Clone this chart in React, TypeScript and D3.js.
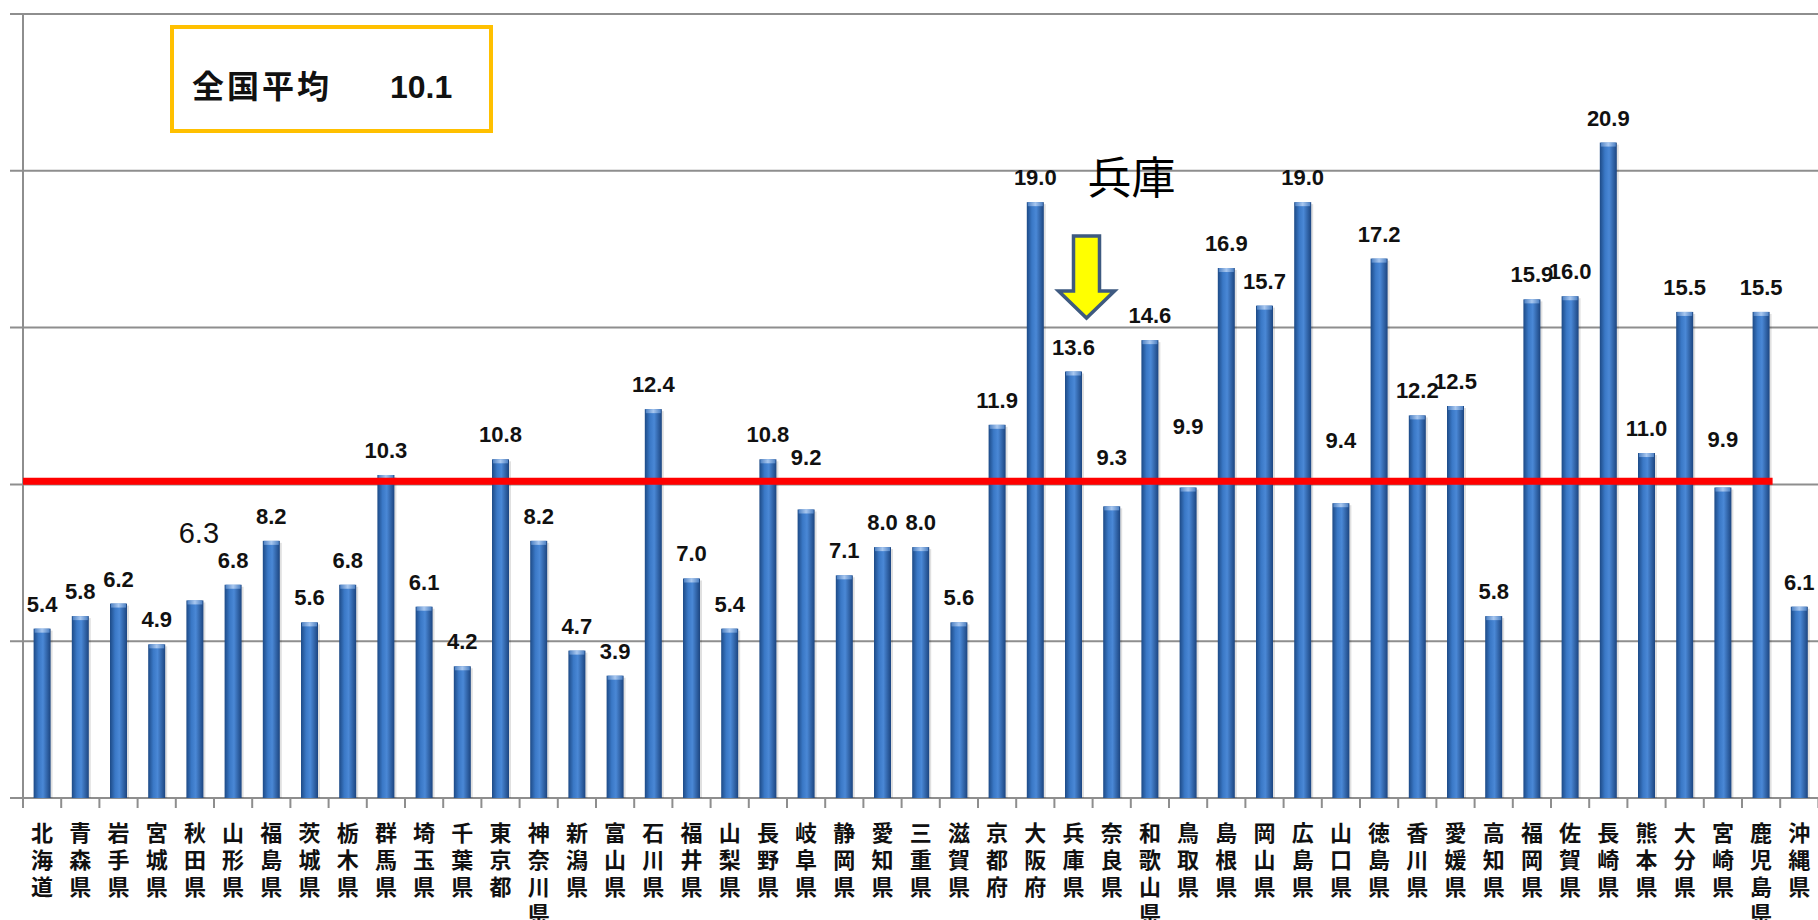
import React from 'react';
import * as d3 from 'd3';

const prefectures = [
  '北海道', '青森県', '岩手県', '宮城県', '秋田県', '山形県', '福島県', '茨城県', '栃木県', '群馬県',
  '埼玉県', '千葉県', '東京都', '神奈川県', '新潟県', '富山県', '石川県', '福井県', '山梨県', '長野県',
  '岐阜県', '静岡県', '愛知県', '三重県', '滋賀県', '京都府', '大阪府', '兵庫県', '奈良県', '和歌山県',
  '鳥取県', '島根県', '岡山県', '広島県', '山口県', '徳島県', '香川県', '愛媛県', '高知県', '福岡県',
  '佐賀県', '長崎県', '熊本県', '大分県', '宮崎県', '鹿児島県', '沖縄県',
];

const values = [
  5.4, 5.8, 6.2, 4.9, 6.3, 6.8, 8.2, 5.6, 6.8, 10.3,
  6.1, 4.2, 10.8, 8.2, 4.7, 3.9, 12.4, 7.0, 5.4, 10.8,
  9.2, 7.1, 8.0, 8.0, 5.6, 11.9, 19.0, 13.6, 9.3, 14.6,
  9.9, 16.9, 15.7, 19.0, 9.4, 17.2, 12.2, 12.5, 5.8, 15.9,
  16.0, 20.9, 11.0, 15.5, 9.9, 15.5, 6.1,
];

const nationalAverage = 10.1;
const averageLabel = '全国平均';
const highlightName = '兵庫県';
const highlightText = '兵庫';
const yTicks = [0, 5, 10, 15, 20, 25];

// label placement tweaks (px lift above default position)
const labelLift: Record<string, number> = {
  '岐阜県': 27,
  '奈良県': 24,
  '鳥取県': 37,
  '山口県': 38,
  '宮崎県': 24,
};
const bigLabel = '秋田県';

const W = 1818;
const H = 920;
const axisX = 23;
const step = 38.2;
const baseY = 798;
const topY = 14;

export default function App() {
  const x = d3.scaleBand<string>().domain(prefectures).range([axisX, axisX + step * prefectures.length]).padding(0);
  const y = d3.scaleLinear().domain([0, 25]).range([baseY, topY]);
  const bw = x.bandwidth();
  const barW = 17;
  const avgY = y(nationalAverage);
  const lastBarIdx = prefectures.indexOf('鹿児島県');
  const avgEnd = (x(prefectures[lastBarIdx]) as number) + bw / 2 + barW / 2 + 3;
  const hx = (x(highlightName) as number) + bw / 2;

  const labelFont = '"Liberation Sans", Arial, sans-serif';
  const cjkFont = '"Noto Sans CJK JP", "Noto Sans CJK SC", sans-serif';

  return (
    <svg width={W} height={H} style={{ position: 'absolute', left: 0, top: 0, background: '#fff' }}>
      <defs>
        <linearGradient id="barGrad" x1="0" x2="1" y1="0" y2="0">
          <stop offset="0%" stopColor="#1d4a86" />
          <stop offset="30%" stopColor="#3a78c6" />
          <stop offset="55%" stopColor="#4a88d6" />
          <stop offset="100%" stopColor="#1c4580" />
        </linearGradient>
        <linearGradient id="capGrad" x1="0" x2="1" y1="0" y2="0">
          <stop offset="0%" stopColor="#4f82c4" />
          <stop offset="50%" stopColor="#a9c8f0" />
          <stop offset="100%" stopColor="#4f82c4" />
        </linearGradient>
      </defs>

      {/* gridlines */}
      {yTicks.map((t) => (
        <line key={t} x1={10} x2={W} y1={y(t)} y2={y(t)} stroke="#8e8e8e" strokeWidth={2} />
      ))}
      {/* y axis */}
      <line x1={axisX} x2={axisX} y1={topY} y2={baseY + 10} stroke="#8e8e8e" strokeWidth={2} />
      {/* x ticks */}
      {prefectures.map((p) => (
        <line key={'t' + p} x1={(x(p) as number) + bw} x2={(x(p) as number) + bw} y1={baseY} y2={baseY + 10} stroke="#8e8e8e" strokeWidth={2} />
      ))}

      {/* bars */}
      {prefectures.map((p, i) => {
        const cx = (x(p) as number) + bw / 2;
        const top = y(values[i]);
        return (
          <g key={'b' + p}>
            <rect x={cx - barW / 2 + 2} y={top + 2} width={barW} height={baseY - top - 2} fill="#000" opacity={0.12} />
            <rect x={cx - barW / 2} y={top} width={barW} height={baseY - top} fill="url(#barGrad)" />
            <rect x={cx - barW / 2 + 1} y={top} width={barW - 2} height={4} fill="url(#capGrad)" />
          </g>
        );
      })}

      {/* average line */}
      <line x1={axisX} x2={avgEnd} y1={avgY} y2={avgY} stroke="#ff0000" strokeWidth={7} />

      {/* value labels */}
      {prefectures.map((p, i) => {
        const cx = (x(p) as number) + bw / 2;
        const top = y(values[i]);
        if (p === bigLabel) {
          return (
            <text key={'l' + p} x={cx + 4} y={top - 57} textAnchor="middle" fontFamily={labelFont} fontSize={29} fill="#111">
              {values[i].toFixed(1)}
            </text>
          );
        }
        const lift = labelLift[p] || 0;
        return (
          <text key={'l' + p} x={cx} y={top - 17 - lift} textAnchor="middle" fontFamily={labelFont} fontWeight="bold" fontSize={22} fill="#111">
            {values[i].toFixed(1)}
          </text>
        );
      })}

      {/* category labels (vertical stacked) */}
      {prefectures.map((p) => {
        const cx = (x(p) as number) + bw / 2;
        return (
          <text key={'c' + p} textAnchor="middle" fontFamily={cjkFont} fontWeight="bold" fontSize={22} fill="#111">
            {Array.from(p).map((ch, j) => (
              <tspan key={j} x={cx} y={841 + j * 27}>{ch}</tspan>
            ))}
          </text>
        );
      })}

      {/* national average box */}
      <rect x={172} y={27} width={319} height={104} fill="#fff" stroke="#ffc000" strokeWidth={4} />
      <text x={192} y={98} fontFamily={cjkFont} fontWeight="bold" fontSize={32} letterSpacing={3} fill="#111">{averageLabel}</text>
      <text x={390} y={98} fontFamily={labelFont} fontWeight="bold" fontSize={32} fill="#111">{nationalAverage.toFixed(1)}</text>

      {/* Hyogo annotation */}
      <text x={hx + 58} y={175} textAnchor="middle" dominantBaseline="central" fontFamily={cjkFont} fontSize={44} fill="#000">{highlightText}</text>
      <path
        d={`M${hx},236 L${hx + 26},236 L${hx + 26},291 L${hx + 41},291 L${hx + 13},318 L${hx - 15},291 L${hx},291 Z`}
        fill="#ffff00"
        stroke="#3e5a80"
        strokeWidth={3.5}
        strokeLinejoin="miter"
      />
    </svg>
  );
}
